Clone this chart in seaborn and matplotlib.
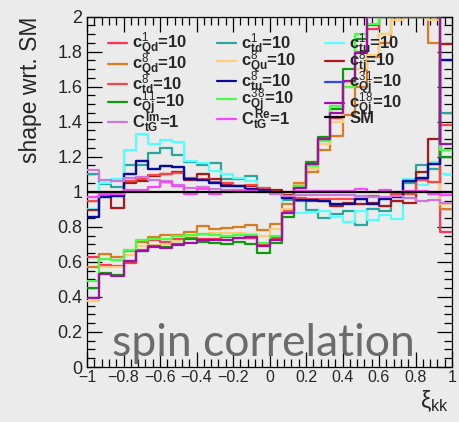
import numpy as np
import pandas as pd
import matplotlib
matplotlib.use("Agg")
import matplotlib.pyplot as plt
import seaborn as sns
from matplotlib.lines import Line2D
from matplotlib.ticker import MultipleLocator, FuncFormatter

# ---------------- data (30 bins in xi_kk from -1 to 1) ----------------
bin_edges = np.linspace(-1.0, 1.0, 31)

c1Qd = [0.625, 0.583, 0.575, 0.596, 0.669, 0.722, 0.712, 0.731, 0.735, 0.731,
        0.731, 0.741, 0.735, 0.738, 0.697, 0.735, 0.89, 1.04, 1.15, 1.30,
        1.42, 1.60, 1.80, 1.93, 2.2, 2.2, 2.2, 2.2, 2.2, 0.77]
c1td = [1.10, 1.045, 1.027, 1.15, 1.15, 1.22, 1.25, 1.21, 1.17, 1.15,
        1.165, 1.07, 1.072, 1.088, 1.015, 0.99, 0.954, 0.945, 0.897, 0.85,
        0.874, 0.893, 0.808, 0.90, 0.888, 0.945, 1.05, 1.15, 1.13, 1.45]
c1tu = [0.903, 1.05, 1.07, 1.236, 1.328, 1.275, 1.297, 1.282, 1.173, 1.165,
        1.12, 1.10, 1.08, 1.06, 1.02, 0.99, 0.90, 0.88, 0.885, 0.888,
        0.855, 0.825, 0.888, 0.84, 0.865, 0.846, 1.07, 1.04, 1.17, 1.10]
c8Qd = [0.568, 0.646, 0.625, 0.663, 0.716, 0.741, 0.754, 0.754, 0.77, 0.802,
        0.787, 0.796, 0.80, 0.811, 0.783, 0.815, 0.93, 1.05, 1.11, 1.24,
        1.32, 1.44, 1.60, 1.77, 1.85, 1.98, 2.02, 2.02, 1.85, 0.90]
c8Qu = [0.379, 0.573, 0.573, 0.64, 0.693, 0.697, 0.70, 0.72, 0.745, 0.758,
        0.764, 0.762, 0.762, 0.76, 0.749, 0.789, 0.90, 1.04, 1.13, 1.27,
        1.40, 1.62, 1.70, 1.78, 1.90, 1.98, 2.05, 2.05, 1.98, 0.93]
c8tj = [0.897, 0.973, 0.91, 1.05, 1.06, 1.09, 1.10, 1.11, 1.065, 1.10,
        1.07, 1.045, 1.035, 1.03, 1.015, 1.01, 0.98, 0.96, 0.945, 0.945,
        0.92, 0.935, 0.93, 0.935, 0.92, 0.945, 0.935, 1.11, 1.30, 1.844]
c8td = [0.945, 0.975, 0.975, 1.06, 1.07, 1.095, 1.10, 1.105, 1.08, 1.07,
        1.055, 1.05, 1.035, 1.04, 1.02, 1.0, 0.975, 0.965, 0.96, 0.96,
        0.958, 0.958, 0.96, 0.975, 0.965, 0.985, 0.985, 1.065, 1.055, 1.38]
c8tu = [0.855, 0.97, 0.975, 1.10, 1.175, 1.13, 1.145, 1.14, 1.07, 1.065,
        1.05, 1.03, 1.03, 1.015, 1.01, 0.995, 0.965, 0.955, 0.955, 0.945,
        0.93, 0.93, 0.96, 0.93, 0.958, 0.97, 1.06, 1.08, 1.16, 1.754]
c31Qj = [0.855, 0.97, 0.975, 1.10, 1.175, 1.13, 1.145, 1.14, 1.07, 1.065,
         1.05, 1.03, 1.03, 1.015, 1.01, 0.995, 0.965, 0.955, 0.955, 0.945,
         0.93, 0.93, 0.96, 0.93, 0.958, 0.97, 1.06, 1.08, 1.16, 1.754]
c11Qj = [0.45, 0.535, 0.526, 0.606, 0.663, 0.688, 0.682, 0.70, 0.731, 0.716,
         0.707, 0.70, 0.716, 0.70, 0.65, 0.71, 0.855, 1.03, 1.17, 1.31,
         1.47, 1.70, 1.87, 1.95, 2.2, 2.2, 2.2, 2.2, 2.2, 1.20]
c38Qj = [0.488, 0.619, 0.608, 0.669, 0.722, 0.731, 0.731, 0.75, 0.754, 0.758,
         0.754, 0.75, 0.754, 0.754, 0.707, 0.75, 0.88, 1.03, 1.145, 1.29,
         1.49, 1.60, 1.90, 1.96, 2.2, 2.2, 2.2, 2.2, 2.2, 1.24]
c18Qj = [0.396, 0.53, 0.52, 0.602, 0.663, 0.682, 0.678, 0.697, 0.707, 0.722,
         0.722, 0.726, 0.735, 0.741, 0.693, 0.726, 0.88, 1.02, 1.16, 1.30,
         1.45, 1.63, 1.79, 2.3, 2.3, 2.3, 2.3, 2.3, 2.3, 1.27]
CImtG = [1.126, 1.069, 1.06, 1.078, 1.084, 1.069, 1.06, 1.04, 1.02, 1.025,
         1.015, 1.011, 1.008, 1.002, 0.998, 0.99, 0.977, 0.983, 0.98, 0.98,
         0.979, 0.979, 0.973, 0.968, 0.968, 0.973, 0.964, 0.949, 0.954, 0.935]
CRetG = [0.968, 0.985, 0.985, 1.011, 1.011, 1.027, 1.053, 1.03, 0.99, 1.015,
         0.99, 1.0, 1.005, 1.005, 1.0, 1.0, 1.0, 1.005, 1.006, 1.006,
         1.006, 1.006, 1.013, 0.998, 1.008, 0.998, 1.002, 1.002, 0.987, 0.979]
SM = [1.0] * 30

labels = {
    "c1Qd": r"$c^{1}_{Qd}$=10", "c1td": r"$c^{1}_{td}$=10", "c1tu": r"$c^{1}_{tu}$=10",
    "c8Qd": r"$c^{8}_{Qd}$=10", "c8Qu": r"$c^{8}_{Qu}$=10", "c8tj": r"$c^{8}_{tj}$=10",
    "c8td": r"$c^{8}_{td}$=10", "c8tu": r"$c^{8}_{tu}$=10", "c31Qj": r"$c^{31}_{Qj}$=10",
    "c11Qj": r"$c^{11}_{Qj}$=10", "c38Qj": r"$c^{38}_{Qj}$=10", "c18Qj": r"$c^{18}_{Qj}$=10",
    "CImtG": r"$C^{Im}_{tG}$=1", "CRetG": r"$C^{Re}_{tG}$=1", "SM": "SM",
}
colors = {
    "c1Qd": "#ff3355", "c1td": "#2aa6a0", "c1tu": "#55ffff",
    "c8Qd": "#dd7a1f", "c8Qu": "#ffcc77", "c8tj": "#aa1818",
    "c8td": "#ff4444", "c8tu": "#0a0a99", "c31Qj": "#3344ff",
    "c11Qj": "#0a9a0a", "c38Qj": "#44ff44", "c18Qj": "#a010a8",
    "CImtG": "#cc77dd", "CRetG": "#ff44ff", "SM": "#000000",
}
values = {
    "c1Qd": c1Qd, "c1td": c1td, "c1tu": c1tu, "c8Qd": c8Qd, "c8Qu": c8Qu,
    "c8tj": c8tj, "c8td": c8td, "c8tu": c8tu, "c31Qj": c31Qj, "c11Qj": c11Qj,
    "c38Qj": c38Qj, "c18Qj": c18Qj, "CImtG": CImtG, "CRetG": CRetG, "SM": SM,
}
legend_rows = [["c1Qd", "c1td", "c1tu"], ["c8Qd", "c8Qu", "c8tj"],
               ["c8td", "c8tu", "c31Qj"], ["c11Qj", "c38Qj", "c18Qj"],
               ["CImtG", "CRetG", "SM"]]
draw_order = ["c1Qd", "c1td", "c1tu", "c8Qd", "c8Qu", "c8tj", "c8td", "c31Qj",
              "c8tu", "c11Qj", "c38Qj", "c18Qj", "CImtG", "CRetG", "SM"]

# ---------------- style ----------------
BG = "#ebebeb"
sns.set_theme(style="ticks")
plt.rcParams["font.family"] = ["Liberation Sans", "DejaVu Sans"]
plt.rcParams["mathtext.fontset"] = "custom"
plt.rcParams["mathtext.rm"] = "Liberation Sans"
plt.rcParams["mathtext.it"] = "Liberation Sans:bold"
plt.rcParams["mathtext.bf"] = "Liberation Sans:bold"
plt.rcParams["axes.unicode_minus"] = True

fig = plt.figure(figsize=(4.59, 4.22), dpi=100, facecolor=BG)
ax = fig.add_axes([87 / 459, 55 / 422, 365 / 459, 350.5 / 422])
ax.set_facecolor(BG)

ymax = 2.0
for key in draw_order:
    v = np.clip(np.asarray(values[key], dtype=float), None, ymax)
    df = pd.DataFrame({"x": bin_edges, "y": np.append(v, v[-1])})
    sns.lineplot(data=df, x="x", y="y", ax=ax, color=colors[key], lw=1.6,
                 drawstyle="steps-post", estimator=None, sort=False,
                 zorder=3, clip_on=True)

ax.set_xlim(-1, 1)
ax.set_ylim(0, 2)

# ticks (ROOT style: inside, on all four sides)
ax.xaxis.set_major_locator(MultipleLocator(0.2))
ax.xaxis.set_minor_locator(MultipleLocator(0.04))
ax.yaxis.set_major_locator(MultipleLocator(0.2))
ax.yaxis.set_minor_locator(MultipleLocator(0.05))
fmt = FuncFormatter(lambda v, p: ("%g" % round(v, 2)).replace("-", "\u2212"))
ax.xaxis.set_major_formatter(fmt)
ax.yaxis.set_major_formatter(fmt)
ax.tick_params(which="both", direction="in", top=True, right=True, width=0.9,
               color="black")
ax.tick_params(which="major", length=11)
ax.tick_params(which="minor", length=5.5)
ax.tick_params(axis="x", which="major", labelsize=11.5, pad=2.5)
ax.tick_params(axis="y", which="major", labelsize=13, pad=3.5)
for s in ax.spines.values():
    s.set_color("black")
    s.set_linewidth(0.9)

ax.set_ylabel("shape wrt. SM", fontsize=16.5, loc="top")
ax.yaxis.set_label_coords(-0.123, 1.0)
ax.set_xlabel(r"$\mathrm{\xi}_{\mathrm{kk}}$", fontsize=16.5, loc="right")
ax.xaxis.set_label_coords(0.99, -0.06)

ax.text(0.068, 0.03, "spin correlation", transform=ax.transAxes,
        fontfamily="Lato", fontsize=32, color="#6b6b6b", ha="left",
        va="baseline", zorder=1)

# legend: 5 rows x 3 columns, filled row-wise like the original
col_major = [legend_rows[r][c] for c in range(3) for r in range(5)]
handles = [Line2D([], [], color=colors[k], lw=1.6) for k in col_major]
ax.legend(handles, [labels[k] for k in col_major], ncol=3, loc="upper left",
          bbox_to_anchor=(0.0575, 0.9586), frameon=False,
          prop={"weight": "bold", "size": 12}, handlelength=1.15,
          handletextpad=0.3, columnspacing=1.75, labelspacing=-0.45,
          borderpad=0, borderaxespad=0)

fig.savefig("out.png", dpi=100, facecolor=BG)
